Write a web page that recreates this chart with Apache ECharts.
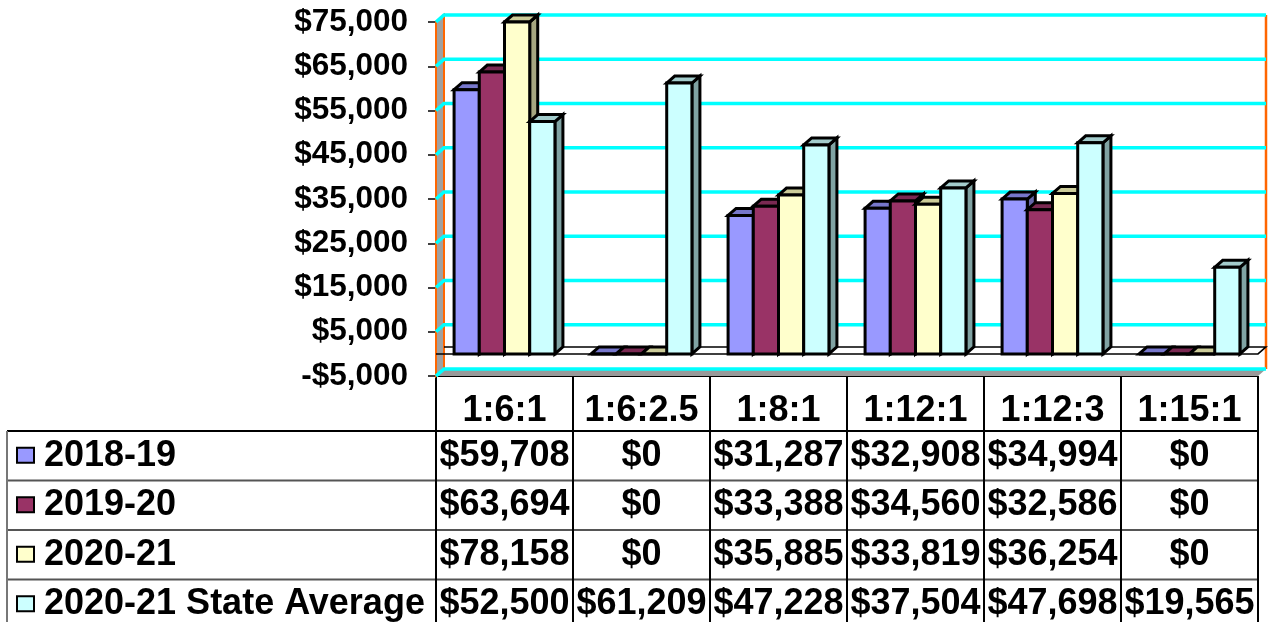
<!DOCTYPE html>
<html>
<head>
<meta charset="utf-8">
<title>Cost per ratio</title>
<script src="https://cdn.jsdelivr.net/npm/echarts@6/dist/echarts.min.js"></script>
<style>
  html, body { margin: 0; padding: 0; background: #fff; }
  #chart { width: 1269px; height: 622px; }
</style>
</head>
<body>
<div id="chart"></div>
<script>
  // data
  const categories = ['1:6:1', '1:6:2.5', '1:8:1', '1:12:1', '1:12:3', '1:15:1'];
  const seriesNames = ['2018-19', '2019-20', '2020-21', '2020-21 State Average'];
  const v2018 = [59708, 0, 31287, 32908, 34994, 0];
  const v2019 = [63694, 0, 33388, 34560, 32586, 0];
  const v2020 = [78158, 0, 35885, 33819, 36254, 0];
  const vState = [52500, 61209, 47228, 37504, 47698, 19565];
  const yTicks = [-5000, 5000, 15000, 25000, 35000, 45000, 55000, 65000, 75000];

  const allValues = [v2018, v2019, v2020, vState];
  const faceColors = ['#9999FF', '#993366', '#FFFFCC', '#CCFFFF'];
  const topColors = ['#7777CC', '#7A2952', '#CCCC99', '#A3CCCC'];
  const sideColors = ['#6666AA', '#66223F', '#A6A680', '#80A3A3'];

  const Y_MIN = yTicks[0], Y_MAX = yTicks[yTicks.length - 1];
  const DX = 8, DY = -7;          // depth of the 3d box
  const BAR_FRAC = 0.184;         // one bar = this much of a category
  const GRID_LEFT = 436, GRID_TOP = 22, GRID_W = 822, GRID_H = 354;
  const FONT = '"Liberation Sans", Arial, sans-serif';

  const money = v => (v < 0 ? '-' : '') + '$' + Math.abs(v).toLocaleString('en-US');

  const chart = echarts.init(document.getElementById('chart'));

  // walls, floor, gridlines of the box
  function renderFrame(params, api) {
    const cs = params.coordSys;
    const x0 = cs.x, x1 = cs.x + cs.width;
    const yBot = api.coord([0, Y_MIN])[1];
    const yTop = api.coord([0, Y_MAX])[1];
    const yZero = api.coord([0, 0])[1];
    const kids = [];
    kids.push({
      type: 'polygon',
      shape: { points: [[x0, yTop], [x0 + DX, yTop + DY], [x0 + DX, yBot + DY], [x0, yBot]] },
      style: { fill: '#A0A0A0', stroke: '#FF6600', lineWidth: 2 }
    });
    kids.push({
      type: 'polygon',
      shape: { points: [[x0, yBot], [x0 + DX, yBot + DY], [x1 + DX, yBot + DY], [x1, yBot]] },
      style: { fill: '#999999' }
    });
    kids.push({
      type: 'line',
      shape: { x1: x1 + DX, y1: yTop + DY, x2: x1 + DX, y2: yBot + DY },
      style: { stroke: '#FF6600', lineWidth: 2.5 }
    });
    yTicks.forEach(v => {
      const y = api.coord([0, v])[1];
      kids.push({
        type: 'polyline',
        shape: { points: [[x0, y], [x0 + DX, y + DY], [x1 + DX, y + DY]] },
        style: { stroke: '#00FFFF', lineWidth: 3.5, fill: null }
      });
    });
    // plane at zero
    kids.push({
      type: 'polyline',
      shape: { points: [[x0 + DX, yZero + DY], [x1 + DX, yZero + DY], [x1, yZero], [x0, yZero]] },
      style: { stroke: '#000', lineWidth: 1.5, fill: null }
    });
    return { type: 'group', children: kids };
  }

  function makeBarRender(si) {
    return function (params, api) {
      const ci = api.value(0);
      const val = Math.min(api.value(1), Y_MAX);
      const base = api.coord([ci, 0]);
      const band = api.size([1, 0])[0];
      const bw = band * BAR_FRAC;
      const xl = base[0] - 2 * bw + si * bw;
      const xr = xl + bw;
      const yb = base[1];
      const yt = api.coord([ci, val])[1];
      const stroke = { stroke: '#000', lineWidth: 3, lineJoin: 'miter' };
      return {
        type: 'group',
        children: [
          {
            type: 'polygon',
            shape: { points: [[xr, yt], [xr + DX, yt + DY], [xr + DX, yb + DY], [xr, yb]] },
            style: Object.assign({ fill: sideColors[si] }, stroke)
          },
          {
            type: 'polygon',
            shape: { points: [[xl, yt], [xl + DX, yt + DY], [xr + DX, yt + DY], [xr, yt]] },
            style: Object.assign({ fill: topColors[si] }, stroke)
          },
          {
            type: 'rect',
            shape: { x: xl, y: yt, width: bw, height: yb - yt },
            style: Object.assign({ fill: faceColors[si] }, stroke)
          }
        ]
      };
    };
  }

  // data table under the plot
  function buildTable() {
    const colW = GRID_W / categories.length;
    const tabTop = GRID_TOP + GRID_H;
    const headH = 55, rowH = 49.5, tabLeft = 7, right = GRID_LEFT + GRID_W;
    const bottom = 640;
    const els = [];
    const font = 'bold 36px ' + FONT;
    els.push({ type: 'line', shape: { x1: GRID_LEFT, y1: tabTop, x2: right, y2: tabTop }, style: { stroke: '#000', lineWidth: 2 } });
    for (let r = 0; r < seriesNames.length; r++) {
      const y = tabTop + headH + r * rowH;
      els.push({ type: 'line', shape: { x1: tabLeft, y1: y, x2: right, y2: y }, style: { stroke: r === 0 ? '#000' : '#555', lineWidth: 2 } });
    }
    els.push({ type: 'line', shape: { x1: tabLeft, y1: tabTop + headH, x2: tabLeft, y2: bottom }, style: { stroke: '#777', lineWidth: 2 } });
    for (let i = 0; i <= categories.length; i++) {
      const x = GRID_LEFT + i * colW;
      els.push({ type: 'line', shape: { x1: x, y1: tabTop, x2: x, y2: bottom }, style: { stroke: '#000', lineWidth: 2 } });
    }
    categories.forEach((c, i) => {
      els.push({
        type: 'text', x: GRID_LEFT + (i + 0.5) * colW, y: tabTop + 35,
        style: { text: c, font: font, fill: '#000', textAlign: 'center', textVerticalAlign: 'middle', align: 'center', verticalAlign: 'middle' }
      });
    });
    seriesNames.forEach((name, r) => {
      const cy = tabTop + headH + (r + 0.5) * rowH;
      els.push({
        type: 'rect', shape: { x: 17, y: cy - 8, width: 17, height: 15 },
        style: { fill: faceColors[r], stroke: '#000', lineWidth: 2 }
      });
      els.push({
        type: 'text', x: 44, y: cy,
        style: { text: name, font: font, fill: '#000', textAlign: 'left', textVerticalAlign: 'middle', align: 'left', verticalAlign: 'middle' }
      });
      allValues[r].forEach((v, i) => {
        els.push({
          type: 'text', x: GRID_LEFT + (i + 0.5) * colW, y: cy,
          style: { text: money(v), font: font, fill: '#000', textAlign: 'center', textVerticalAlign: 'middle', align: 'center', verticalAlign: 'middle' }
        });
      });
    });
    return els;
  }

  const series = [{
    type: 'custom',
    name: 'frame',
    renderItem: renderFrame,
    data: [[0, 0]],
    clip: false,
    silent: true,
    z: 1
  }];
  allValues.forEach((vals, si) => {
    series.push({
      type: 'custom',
      name: seriesNames[si],
      renderItem: makeBarRender(si),
      encode: { x: 0, y: 1 },
      data: vals.map((v, i) => [i, v]),
      clip: false,
      z: 2
    });
  });

  chart.setOption({
    animation: false,
    backgroundColor: '#fff',
    grid: { left: GRID_LEFT, top: GRID_TOP, width: GRID_W, height: GRID_H },
    xAxis: {
      type: 'category',
      data: categories,
      axisLine: { show: false },
      axisTick: { show: false },
      axisLabel: { show: false },
      splitLine: { show: false }
    },
    yAxis: {
      type: 'value',
      min: Y_MIN,
      max: Y_MAX,
      interval: 10000,
      axisLine: { show: true, lineStyle: { color: '#FF6600', width: 2 } },
      axisTick: { show: true, length: 8, lineStyle: { color: '#000', width: 1.5 } },
      axisLabel: {
        margin: 28,
        formatter: money,
        fontSize: 31.5,
        fontWeight: 'bold',
        fontFamily: FONT,
        color: '#000'
      },
      splitLine: { show: false }
    },
    series: series,
    graphic: { elements: buildTable() }
  });
</script>
</body>
</html>
